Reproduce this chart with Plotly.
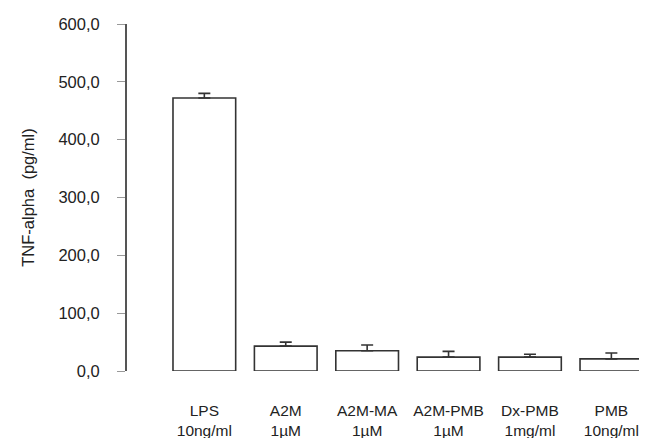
import plotly.graph_objects as go

categories = ["LPS<br>10ng/ml", "A2M<br>1µM", "A2M-MA<br>1µM", "A2M-PMB<br>1µM", "Dx-PMB<br>1mg/ml", "PMB<br>10ng/ml"]
values = [472, 43, 35, 24, 24, 21]
errors = [8, 7, 10, 10, 5, 10]
y_ticks = [0, 100, 200, 300, 400, 500, 600]
y_tick_labels = ["0,0", "100,0", "200,0", "300,0", "400,0", "500,0", "600,0"]

font = dict(family="Liberation Sans, Arial, sans-serif", size=16, color="#222222")

fig = go.Figure(go.Bar(
    x=list(range(len(categories))),
    y=values,
    marker=dict(color="white", line=dict(color="#333333", width=1.6)),
    error_y=dict(type="data", symmetric=False, array=errors, arrayminus=[0]*len(errors),
                 color="#333333", thickness=1.6, width=6),
    width=0.77,
))

fig.update_layout(
    width=647, height=438,
    margin=dict(l=119, r=7, t=16, b=75),
    plot_bgcolor="white", paper_bgcolor="white",
    font=font,
    showlegend=False,
    xaxis=dict(
        range=[-0.95, 5.45],
        tickmode="array", tickvals=list(range(len(categories))), ticktext=categories,
        showline=False, showgrid=False, zeroline=False, ticks="",
        ticklabelstandoff=28,
        tickfont=dict(size=15.5),
    ),
    yaxis=dict(
        range=[0, 600],
        tickmode="array", tickvals=y_ticks, ticktext=y_tick_labels,
        showline=True, linecolor="#555555", linewidth=2,
        ticks="outside", ticklen=8, tickcolor="#999999", tickwidth=1,
        showgrid=False, zeroline=False,
        ticklabelstandoff=14,
        tickfont=dict(size=16.5),
        title=dict(text="TNF-alpha  (pg/ml)", standoff=20, font=dict(size=16.5)),
    ),
)

fig.write_html("out.html")
